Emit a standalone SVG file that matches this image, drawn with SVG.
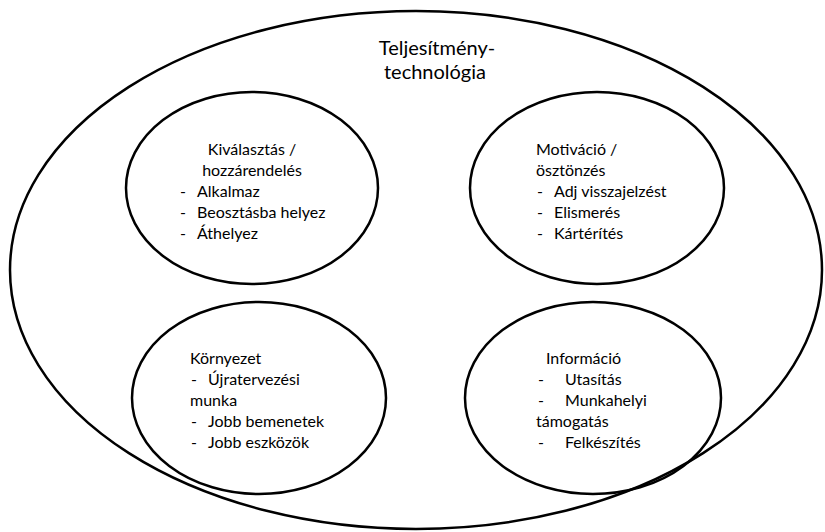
<svg xmlns="http://www.w3.org/2000/svg" width="825" height="532" viewBox="0 0 825 532">
<style>
.sh{fill:none;stroke:#000;stroke-width:2.5}
text{font-family:Lato,"Open Sans","Liberation Sans",sans-serif;font-size:16px;fill:#000}
.t{font-size:20px}
.c{text-anchor:middle}
</style>
<rect width="825" height="532" fill="#fff"/>
<g id="outer">
<ellipse class="sh" cx="416" cy="270" rx="406" ry="259"/>
<text class="t c" x="437" y="55">Teljesítmény-</text>
<text class="t c" x="435" y="79">technológia</text>
</g>
<g id="kivalasztas">
<ellipse class="sh" cx="252" cy="188" rx="126" ry="96"/>
<text class="c" x="252" y="155">Kiválasztás /</text>
<text class="c" x="252" y="176">hozzárendelés</text>
<text x="180" y="197">-</text><text x="197" y="197">Alkalmaz</text>
<text x="180" y="218">-</text><text x="197" y="218">Beosztásba helyez</text>
<text x="180" y="239">-</text><text x="197" y="239">Áthelyez</text>
</g>
<g id="motivacio">
<ellipse class="sh" cx="597" cy="188" rx="127" ry="96"/>
<text x="536" y="155">Motiváció /</text>
<text x="536" y="176">ösztönzés</text>
<text x="537" y="197">-</text><text x="554" y="197">Adj visszajelzést</text>
<text x="537" y="218">-</text><text x="554" y="218">Elismerés</text>
<text x="537" y="239">-</text><text x="554" y="239">Kártérítés</text>
</g>
<g id="kornyezet">
<ellipse class="sh" cx="259" cy="398" rx="127" ry="96"/>
<text x="190" y="364">Környezet</text>
<text x="191" y="385">-</text><text x="208" y="385">Újratervezési</text>
<text x="190" y="406">munka</text>
<text x="191" y="427">-</text><text x="208" y="427">Jobb bemenetek</text>
<text x="191" y="448">-</text><text x="208" y="448">Jobb eszközök</text>
</g>
<g id="informacio">
<ellipse class="sh" cx="593" cy="398" rx="128" ry="96"/>
<text x="546" y="364">Információ</text>
<text x="538" y="385">-</text><text x="565" y="385">Utasítás</text>
<text x="538" y="406">-</text><text x="565" y="406">Munkahelyi</text>
<text x="536" y="427">támogatás</text>
<text x="538" y="448">-</text><text x="565" y="448">Felkészítés</text>
</g>
<g id="connectors"></g>
</svg>
